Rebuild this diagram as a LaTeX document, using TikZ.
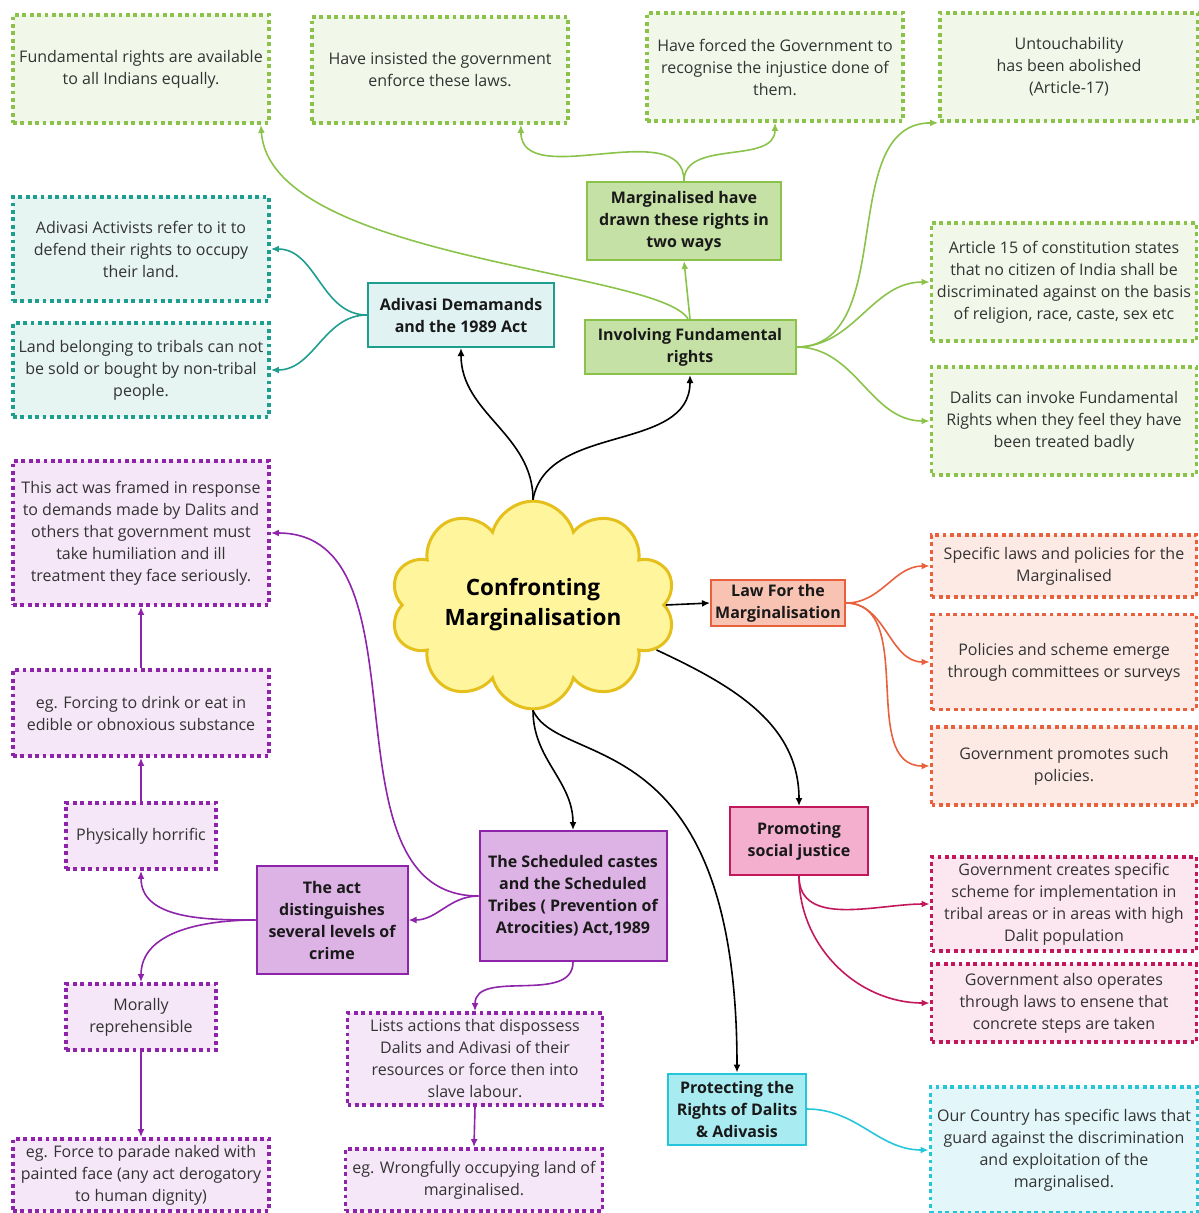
\documentclass[tikz,border=0pt]{standalone}
\usepackage{fontspec}
\setmainfont{Open Sans}
\usetikzlibrary{arrows.meta,shapes.symbols}

\definecolor{grnline}{HTML}{8BC34A}
\definecolor{grnlight}{HTML}{F1F8E9}
\definecolor{grnhub}{HTML}{C5E1A5}
\definecolor{tealline}{HTML}{1E9E8E}
\definecolor{teallight}{HTML}{E6F4F2}
\definecolor{tealhub}{HTML}{E0F2F1}
\definecolor{purpline}{HTML}{8E24AA}
\definecolor{purplight}{HTML}{F5E6F8}
\definecolor{purphub}{HTML}{DDB3E6}
\definecolor{orngline}{HTML}{E8603C}
\definecolor{ornglight}{HTML}{FDEAE5}
\definecolor{ornghub}{HTML}{F8C3B3}
\definecolor{pinkline}{HTML}{C2185B}
\definecolor{pinklight}{HTML}{FCE6EF}
\definecolor{pinkhub}{HTML}{F4AFCF}
\definecolor{cyanline}{HTML}{26C6DA}
\definecolor{cyanlight}{HTML}{E3F7FA}
\definecolor{cyanhub}{HTML}{A8EBF1}
\definecolor{cloudfill}{HTML}{FFF59D}
\definecolor{cloudline}{HTML}{E5C01C}
\colorlet{blkline}{black}

\tikzset{
  leaf/.style={draw=#1line, fill=#1light, line width=3.8pt, dash pattern=on 3.8pt off 3.6pt,
    align=center, inner sep=0pt, text=black!80, font=\fontsize{16}{22}\selectfont},
  hub/.style={draw=#1line, fill=#1hub, line width=2pt, align=center, inner sep=0pt,
    text=black!90, font=\fontsize{16}{22}\selectfont\bfseries},
  link/.style={#1line, line width=1.6pt, -{Latex[length=8pt,width=7pt]}},
}

\begin{document}
\begin{tikzpicture}[x=1pt,y=1pt]
	%\draw[help lines] (0,0) grid[step=100] (1199,-1213);
	\useasboundingbox (0,0) rectangle (1199,-1213);
	\node[cloud, cloud puffs=10, aspect=1.6, draw=cloudline, fill=cloudfill, line width=3pt,
		minimum width=285pt, minimum height=165pt, align=center, inner sep=0pt,
		font=\fontsize{22.5}{30}\selectfont\bfseries] (core) at (533,-605) {Confronting\\Marginalisation};

	% fundamental rights
	\node[hub=grn, minimum width=211pt, minimum height=54pt] (fundrt) at (690,-347) {Involving Fundamental\\rights};
	\node[hub=grn, minimum width=194pt, minimum height=78pt] (twoways) at (684,-221) {Marginalised have\\drawn these rights in\\two ways};
	\node[leaf=grn, minimum width=256pt, minimum height=108pt] (equal) at (141,-69) {Fundamental rights are available\\to all Indians equally.};
	\node[leaf=grn, minimum width=256pt, minimum height=106pt] (insist) at (440,-70) {Have insisted the government\\enforce these laws.};
	\node[leaf=grn, minimum width=256pt, minimum height=108pt] (forced) at (775,-67) {Have forced the Government to\\recognise the injustice done of\\them.};
	\node[leaf=grn, minimum width=258pt, minimum height=108pt] (untouch) at (1069,-67) {Untouchability\\has been abolished\\(Article-17)};
	\node[leaf=grn, minimum width=265pt, minimum height=118pt] (art15) at (1064,-282) {Article 15 of constitution states\\that no citizen of India shall be\\discriminated against on the basis\\of religion, race, caste, sex etc};
	\node[leaf=grn, minimum width=265pt, minimum height=108pt] (invoke) at (1064,-421) {Dalits can invoke Fundamental\\Rights when they feel they have\\been treated badly};

	% adivasi demands
	\node[hub=teal, minimum width=186pt, minimum height=64pt] (adivasi) at (461,-315) {Adivasi Demamands\\and the 1989 Act};
	\node[leaf=teal, minimum width=256pt, minimum height=104pt] (occupy) at (141,-249) {Adivasi Activists refer to it to\\defend their rights to occupy\\their land.};
	\node[leaf=teal, minimum width=256pt, minimum height=94pt] (landsale) at (141,-370) {Land belonging to tribals can not\\be sold or bought by non-tribal\\people.};

	% atrocities act
	\node[hub=purp, minimum width=187pt, minimum height=130pt] (poa) at (573,-896) {The Scheduled castes\\and the Scheduled\\Tribes ( Prevention of\\Atrocities) Act,1989};
	\node[hub=purp, minimum width=151pt, minimum height=108pt] (levels) at (332,-920) {The act\\distinguishes\\several levels of\\crime};
	\node[leaf=purp, minimum width=256pt, minimum height=144pt] (framed) at (141,-533) {This act was framed in response\\to demands made by Dalits and\\others that government must\\take humiliation and ill\\treatment they face seriously.};
	\node[leaf=purp, minimum width=256pt, minimum height=86pt] (drink) at (141,-713) {eg. Forcing to drink or eat in\\edible or obnoxious substance};
	\node[leaf=purp, minimum width=150pt, minimum height=66pt] (horrific) at (141,-836) {Physically horrific};
	\node[leaf=purp, minimum width=150pt, minimum height=66pt] (moral) at (141,-1017) {Morally\\reprehensible};
	\node[leaf=purp, minimum width=256pt, minimum height=72pt] (parade) at (141,-1175) {eg. Force to parade naked with\\painted face (any act derogatory\\to human dignity)};
	\node[leaf=purp, minimum width=255pt, minimum height=92pt] (dispossess) at (475,-1059) {Lists actions that dispossess\\Dalits and Adivasi of their\\resources or force then into\\slave labour.};
	\node[leaf=purp, minimum width=257pt, minimum height=62pt] (grabland) at (474,-1180) {eg. Wrongfully occupying land of\\marginalised.};

	% laws
	\node[hub=orng, minimum width=134pt, minimum height=46pt] (law) at (778,-603) {Law For the\\Marginalisation};
	\node[leaf=orng, minimum width=265pt, minimum height=62pt] (specific) at (1064,-566) {Specific laws and policies for the\\Marginalised};
	\node[leaf=orng, minimum width=265pt, minimum height=95pt] (committee) at (1064,-662) {Policies and scheme emerge\\through committees or surveys};
	\node[leaf=orng, minimum width=265pt, minimum height=78pt] (promote) at (1064,-766) {Government promotes such\\policies.};

	% social justice
	\node[hub=pink, minimum width=138pt, minimum height=68pt] (justice) at (799,-841) {Promoting\\social justice};
	\node[leaf=pink, minimum width=265pt, minimum height=94pt] (scheme) at (1064,-904) {Government creates specific\\scheme for implementation in\\tribal areas or in areas with high\\Dalit population};
	\node[leaf=pink, minimum width=265pt, minimum height=78pt] (operate) at (1064,-1003) {Government also operates\\through laws to ensene that\\concrete steps are taken};

	% protecting rights
	\node[hub=cyan, minimum width=138pt, minimum height=71pt] (protect) at (737,-1109) {Protecting the\\Rights of Dalits\\\& Adivasis};
	\node[leaf=cyan, minimum width=267pt, minimum height=126pt] (guard) at (1064,-1150) {Our Country has specific laws that\\guard against the discrimination\\and exploitation of the\\marginalised.};

	% from the centre
	\draw[link=blk] (core.north) to[out=90,in=-90] (adivasi.south);
	\draw[link=blk] (core.north) to[out=80,in=-90] (fundrt.south);
	\draw[link=blk] (core.east) -- (law.west);
	\draw[link=blk] (core.-20) to[out=-25,in=90] (justice.north);
	\draw[link=blk] (core.south) to[out=-90,in=90] (poa.north);
	\draw[link=blk] (core.south) .. controls (560,-770) and (737,-720) .. (protect.north);

	\draw[link=grn] (fundrt.north) -- (twoways.south);
	\draw[link=grn] (twoways.north) to[out=90,in=-90] (forced.south);
	\draw[link=grn] (twoways.north) to[out=90,in=-90] ([xshift=-49pt]insist.south east);
	\draw[link=grn] ([xshift=-2pt]fundrt.north) .. controls (660,-270) and (270,-260) .. ([xshift=-10pt]equal.south east);
	\draw[link=grn] (fundrt.east) to[out=0,in=180] (untouch.south west);
	\draw[link=grn] (fundrt.east) to[out=0,in=180] (art15.west);
	\draw[link=grn] (fundrt.east) to[out=0,in=180] (invoke.west);

	\draw[link=teal] (adivasi.west) to[out=180,in=0] (occupy.east);
	\draw[link=teal] (adivasi.west) to[out=180,in=0] (landsale.east);

	\draw[link=purp] (poa.west) to[out=180,in=0] (levels.east);
	\draw[link=purp] (poa.west) to[out=180,in=0] (framed.east);
	\draw[link=purp] (poa.south) to[out=-90,in=90] (dispossess.north);
	\draw[link=purp] (dispossess.south) -- (grabland.north);
	\draw[link=purp] (levels.west) to[out=180,in=-90] (horrific.south);
	\draw[link=purp] (levels.west) to[out=180,in=90] (moral.north);
	\draw[link=purp] (horrific.north) -- (drink.south);
	\draw[link=purp] (drink.north) -- (framed.south);
	\draw[link=purp] (moral.south) -- (parade.north);

	\draw[link=orng] (law.east) to[out=0,in=180] (specific.west);
	\draw[link=orng] (law.east) to[out=0,in=180] (committee.west);
	\draw[link=orng] (law.east) to[out=0,in=180] (promote.west);

	\draw[link=pink] (justice.south) to[out=-90,in=180] (scheme.west);
	\draw[link=pink] (justice.south) to[out=-90,in=180] (operate.west);

	\draw[link=cyan] (protect.east) to[out=0,in=180] (guard.west);
\end{tikzpicture}
\end{document}
